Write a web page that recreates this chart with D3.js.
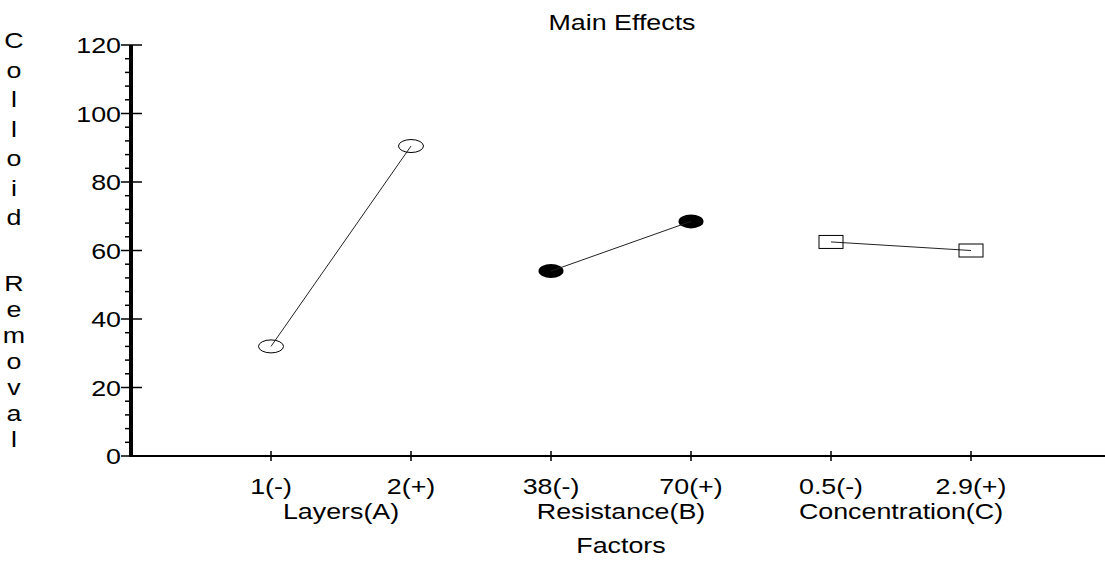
<!DOCTYPE html>
<html>
<head>
<meta charset="utf-8">
<script src="https://cdn.jsdelivr.net/npm/d3@7"></script>
<style>
  body { margin: 0; background: #fff; }
  svg { font-family: "Liberation Sans", Arial, sans-serif; }
</style>
</head>
<body>
<svg id="chart"></svg>
<script>
// Data
const factors = ["Layers(A)", "Resistance(B)", "Concentration(C)"];
const levels = [["1(-)", "2(+)"], ["38(-)", "70(+)"], ["0.5(-)", "2.9(+)"]];
const effects = [[32, 90.5], [54, 68.5], [62.5, 60]];
const yTicks = [0, 20, 40, 60, 80, 100, 120];
const yLabel = ["Colloid", "Removal"];

const width = 1105, height = 563;
const svg = d3.select("#chart").attr("width", width).attr("height", height);

// the original text is a bit wide for its height
const FS = 22, SX = 1.22;
function label(sel, x, y, anchor) {
  return sel
    .attr("transform", (d, i) => `translate(${x(d, i)},${y(d, i)}) scale(${SX},1)`)
    .attr("text-anchor", anchor)
    .attr("font-size", FS);
}

// Scales: x position 0 is the y axis, factor levels at 1..6
const x = d3.scaleLinear().domain([0, 7]).range([131, 1111]);
const y = d3.scaleLinear().domain([0, 120]).range([456, 45]);

// Title
label(svg.append("text").datum("Main Effects"), () => 622, () => 30, "middle")
  .text(d => d);

// Y axis label, one letter per line
const letters = [];
yLabel.forEach((w, k) => w.split("").forEach((c, j) => letters.push({ c, k, j })));
label(svg.append("g").selectAll("text").data(letters).join("text"),
  () => 14, d => (d.k === 0 ? 40 + d.j * 29.5 : 283 + d.j * 26) + 8, "middle")
  .text(d => d.c);

// Minor ticks on y axis (left side)
const minor = d3.range(0, 121, 4).filter(v => v % 20 !== 0);
svg.append("g").selectAll("line")
  .data(minor)
  .join("line")
  .attr("x1", 125).attr("x2", 133)
  .attr("y1", d => y(d)).attr("y2", d => y(d))
  .attr("stroke", "#000").attr("stroke-width", 1.5);

// Major ticks and labels
const yAxis = svg.append("g");
yAxis.selectAll("line")
  .data(yTicks)
  .join("line")
  .attr("x1", 121).attr("x2", 142)
  .attr("y1", d => y(d)).attr("y2", d => y(d))
  .attr("stroke", "#000").attr("stroke-width", 1.5);
label(yAxis.selectAll("text").data(yTicks).join("text"),
  () => 121, d => y(d) + 8, "end")
  .text(d => d);

// Axis lines
svg.append("line")
  .attr("x1", x(0)).attr("x2", x(7))
  .attr("y1", y(0)).attr("y2", y(0))
  .attr("stroke", "#000").attr("stroke-width", 2);
svg.append("line")
  .attr("x1", x(0)).attr("x2", x(0))
  .attr("y1", y(120)).attr("y2", y(0) + 1)
  .attr("stroke", "#000").attr("stroke-width", 4);

// X ticks + level labels
const flat = levels.flatMap((lv, i) => lv.map((l, j) => ({ label: l, pos: i * 2 + j + 1 })));
const xt = svg.append("g");
xt.selectAll("line")
  .data(flat)
  .join("line")
  .attr("x1", d => x(d.pos)).attr("x2", d => x(d.pos))
  .attr("y1", y(0) - 5).attr("y2", y(0) + 5)
  .attr("stroke", "#000").attr("stroke-width", 1.5);
label(xt.selectAll("text").data(flat).join("text"),
  d => x(d.pos), () => 494, "middle")
  .text(d => d.label);

// Factor names
label(svg.append("g").selectAll("text").data(factors).join("text"),
  (d, i) => x(i * 2 + 1.5), () => 519, "middle")
  .text(d => d);

label(svg.append("text").datum("Factors"), () => x(3.5), () => 553, "middle")
  .text(d => d);

// Effect lines and markers
effects.forEach((vals, i) => {
  const pts = vals.map((v, j) => [x(i * 2 + j + 1), y(v)]);
  const g = svg.append("g");

  if (i === 1) {
    g.selectAll("ellipse").data(pts).join("ellipse")
      .attr("cx", d => d[0]).attr("cy", d => d[1])
      .attr("rx", 12.5).attr("ry", 7)
      .attr("fill", "#000");
  }

  g.append("path")
    .attr("d", d3.line()(pts))
    .attr("fill", "none")
    .attr("stroke", "#222")
    .attr("stroke-width", 1);

  if (i === 0) {
    g.selectAll("ellipse").data(pts).join("ellipse")
      .attr("cx", d => d[0]).attr("cy", d => d[1])
      .attr("rx", 12.5).attr("ry", 6.5)
      .attr("fill", "none").attr("stroke", "#000").attr("stroke-width", 1);
  } else if (i === 2) {
    g.selectAll("rect").data(pts).join("rect")
      .attr("x", d => d[0] - 12).attr("y", d => d[1] - 6.5)
      .attr("width", 24).attr("height", 13)
      .attr("fill", "none").attr("stroke", "#000").attr("stroke-width", 1);
  }
});
</script>
</body>
</html>
